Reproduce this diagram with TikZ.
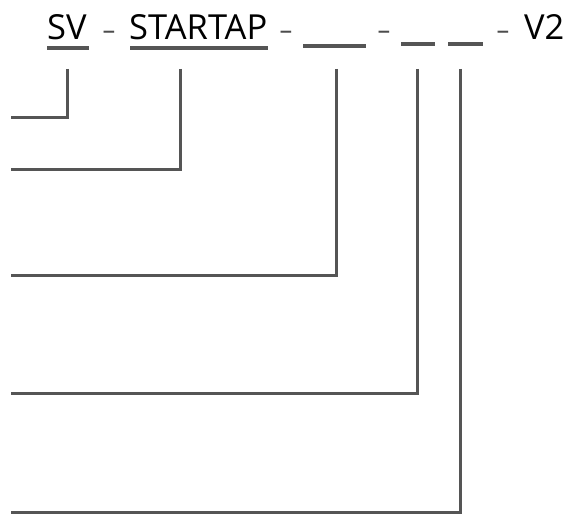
\documentclass[tikz,border=0pt]{standalone}
\usepackage{fontspec}
\setmainfont{Open Sans}
\definecolor{linegray}{HTML}{555555}
\begin{document}
\begin{tikzpicture}[x=1pt,y=-1pt,
  lbl/.style={inner sep=0pt, anchor=base west, font=\fontsize{34.5}{38}\selectfont, text=black},
  sep/.style={inner sep=0pt, anchor=base, font=\fontsize{34}{38}\selectfont, text=black!70, xscale=1.3, yscale=0.8},
  uline/.style={draw=linegray, line width=3.6pt},
  conn/.style={draw=linegray, line width=3pt}]
\useasboundingbox (0,0) rectangle (569,513);
% texts
\node[lbl] (sv) at (47,40) {SV};
\node[sep] (d1) at (109,40) {-};
\node[lbl] (st) at (129,40) {STARTAP};
\node[sep] (d2) at (286,40) {-};
\node[sep] (d3) at (384,40) {-};
\node[sep] (d4) at (503,40) {-};
\node[lbl] (v2) at (524,40) {V2};
% underlines
\path[uline] (47,48) -- (89,48);
\path[uline] (130,48) -- (268,48);
\path[uline] (303,46) -- (366,46);
\path[uline] (401,44) -- (435,44);
\path[uline] (448,44) -- (483,44);
% connector ends
\coordinate (t1) at (67,69);   \coordinate (e1) at (11,118);
\coordinate (t2) at (180,69);  \coordinate (e2) at (11,169);
\coordinate (t3) at (336,69);  \coordinate (e3) at (11,275);
\coordinate (t4) at (417,69);  \coordinate (e4) at (11,393);
\coordinate (t5) at (460,69);  \coordinate (e5) at (11,512);
\path[conn] (t1) |- (e1);
\path[conn] (t2) |- (e2);
\path[conn] (t3) |- (e3);
\path[conn] (t4) |- (e4);
\path[conn] (t5) |- (e5);
\end{tikzpicture}
\end{document}
